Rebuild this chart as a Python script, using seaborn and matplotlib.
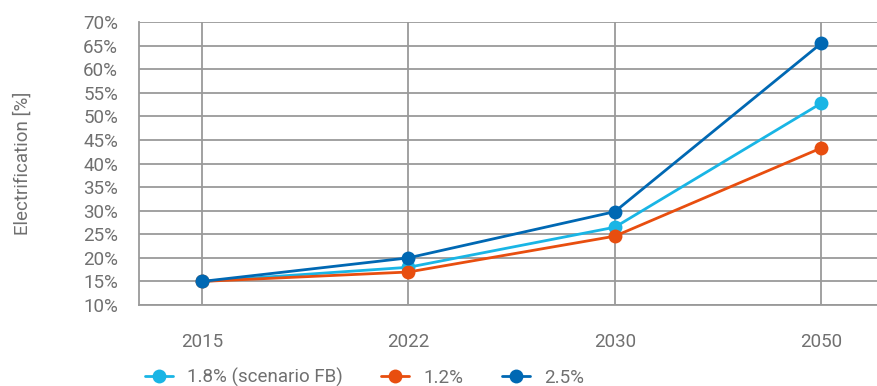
import pandas as pd
import matplotlib.pyplot as plt
import seaborn as sns

sns.set_theme(style="white")
plt.rcParams['font.family'] = ['Roboto', 'DejaVu Sans']

years = ['2015', '2022', '2030', '2050']
scenarios = ['1.8% (scenario FB)', '1.2%', '2.5%']
fb_18 = [15.0, 18.0, 26.5, 52.8]
s_12 = [15.0, 17.0, 24.6, 43.3]
s_25 = [15.0, 20.0, 29.8, 65.5]
colors = ['#19b5e5', '#e84e0f', '#0068b3']

df = pd.DataFrame({
    'Year': years * 3,
    'Electrification': fb_18 + s_12 + s_25,
    'Scenario': [s for s in scenarios for _ in years],
})

grey = '#707070'
grid = '#9a9a9a'
fs = 13.5

fig = plt.figure(figsize=(8.77, 3.86), dpi=100)
ax = fig.add_axes([0.1585, 0.2098, 0.8415, 0.733])

sns.lineplot(data=df, x='Year', y='Electrification', hue='Scenario',
             hue_order=scenarios, palette=colors, marker='o', markersize=10,
             markeredgewidth=0, linewidth=2, ax=ax, legend=True)

ax.set_ylim(10, 70)
ax.set_xlim(-0.305, 3.27)
ax.set_yticks(range(10, 71, 5))
ax.set_yticklabels([f'{v}%' for v in range(10, 71, 5)])
ax.grid(True, color=grid, linewidth=1.3)
ax.set_axisbelow(True)
for side in ['top', 'right']:
    ax.spines[side].set_visible(False)
for side in ['left', 'bottom']:
    ax.spines[side].set_color(grid)
    ax.spines[side].set_linewidth(1.3)

ax.tick_params(axis='y', length=0, pad=15, labelsize=fs, labelcolor=grey)
ax.tick_params(axis='x', length=0, pad=20, labelsize=fs, labelcolor=grey)
ax.set_xlabel('')
ax.set_ylabel('Electrification [%]', fontsize=fs, color=grey)
ax.yaxis.set_label_coords(-0.145, 0.5)

handles, labels = ax.get_legend_handles_labels()
ax.get_legend().remove()
leg = fig.legend(handles, labels, loc='center left', bbox_to_anchor=(0.146, 0.022),
                 ncol=3, frameon=False, fontsize=fs, handlelength=1.5,
                 columnspacing=2.05, handletextpad=0.75)
for t in leg.get_texts():
    t.set_color(grey)

plt.savefig('out.png', dpi=100)
